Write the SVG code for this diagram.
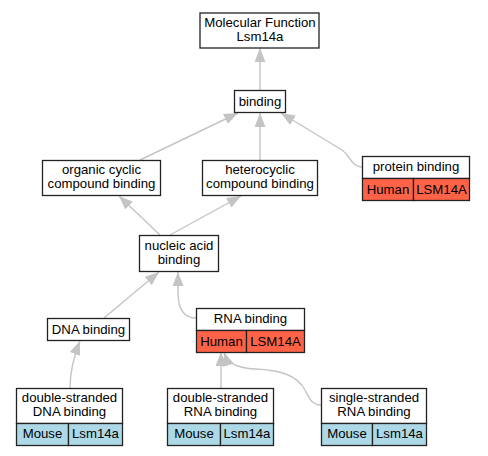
<svg xmlns="http://www.w3.org/2000/svg" width="488" height="456" viewBox="0 0 488 456">
<defs>
<style>
.box{fill:#fff;stroke:#222;stroke-width:1.3}
.hum{fill:#ff6347;stroke:#222;stroke-width:1.3}
.mou{fill:#add8e6;stroke:#222;stroke-width:1.3}
text{font-family:"Liberation Sans",Arial,sans-serif;font-size:13.2px;fill:#000;text-anchor:middle}
.edge{fill:none;stroke:#c4c4c4;stroke-width:1.4}
</style>
<marker id="ah" viewBox="0 0 14 11" markerWidth="14" markerHeight="11" markerUnits="userSpaceOnUse" refX="14" refY="5.5" orient="auto">
<path d="M0,0 L14,5.5 L0,11 z" fill="#c4c4c4"/>
</marker>
</defs>
<rect width="488" height="456" fill="#fff"/>
<g id="connectors">
<path class="edge" marker-end="url(#ah)" d="M260,90 L260,48"/>
<path class="edge" marker-end="url(#ah)" d="M140,160 L238,113"/>
<path class="edge" marker-end="url(#ah)" d="M260,160 L260,113"/>
<path class="edge" marker-end="url(#ah)" d="M362,167 C352,167 350,156 342,150 L281,113"/>
<path class="edge" marker-end="url(#ah)" d="M160,235 L119,196"/>
<path class="edge" marker-end="url(#ah)" d="M170,235 L241,196"/>
<path class="edge" marker-end="url(#ah)" d="M104,318 L159,272"/>
<path class="edge" marker-end="url(#ah)" d="M196,318 C182,318 178,306 178,292 L178,272"/>
<path class="edge" marker-end="url(#ah)" d="M70,388 C70,372 74,356 80,341"/>
<path class="edge" marker-end="url(#ah)" d="M221,388 L221,352"/>
<path class="edge" marker-end="url(#ah)" d="M321,405 C311,405 309,397 305,390 C297,375 280,370 255,369 C238,368 228,364 224,352"/>
</g>
<g id="mf">
<rect class="box" x="200" y="13" width="119" height="35"/>
<text x="260" y="27">Molecular Function</text>
<text x="260" y="41">Lsm14a</text>
</g>
<g id="binding">
<rect class="box" x="234.5" y="90.5" width="51" height="22"/>
<text x="260" y="106">binding</text>
</g>
<g id="organic">
<rect class="box" x="42.5" y="160.5" width="118" height="35"/>
<text x="101.5" y="174">organic cyclic</text>
<text x="101.5" y="188">compound binding</text>
</g>
<g id="hetero">
<rect class="box" x="202.5" y="160.5" width="115" height="35"/>
<text x="260" y="174">heterocyclic</text>
<text x="260" y="188">compound binding</text>
</g>
<g id="protein">
<rect class="box" x="362.5" y="156.5" width="107" height="22"/>
<rect class="hum" x="362.5" y="178.5" width="51" height="22"/>
<rect class="hum" x="413.5" y="178.5" width="56" height="22"/>
<text x="416" y="171">protein binding</text>
<text x="388" y="194">Human</text>
<text x="441.5" y="194">LSM14A</text>
</g>
<g id="nucleic">
<rect class="box" x="139.5" y="235.5" width="79" height="36"/>
<text x="179" y="250">nucleic acid</text>
<text x="179" y="264">binding</text>
</g>
<g id="dna">
<rect class="box" x="47.5" y="318.5" width="82" height="22"/>
<text x="88.5" y="334">DNA binding</text>
</g>
<g id="rna">
<rect class="box" x="196.5" y="308.5" width="108" height="22"/>
<rect class="hum" x="196.5" y="330.5" width="50" height="22"/>
<rect class="hum" x="246.5" y="330.5" width="58" height="22"/>
<text x="250.5" y="323">RNA binding</text>
<text x="221.5" y="346">Human</text>
<text x="275.5" y="346">LSM14A</text>
</g>
<g id="dsdna">
<rect class="box" x="16.5" y="388.5" width="106" height="35"/>
<rect class="mou" x="16.5" y="423.5" width="52" height="22"/>
<rect class="mou" x="68.5" y="423.5" width="54" height="22"/>
<text x="69.5" y="402">double-stranded</text>
<text x="69.5" y="416">DNA binding</text>
<text x="42.5" y="438">Mouse</text>
<text x="95.5" y="438">Lsm14a</text>
</g>
<g id="dsrna">
<rect class="box" x="167.5" y="388.5" width="106" height="35"/>
<rect class="mou" x="167.5" y="423.5" width="53" height="22"/>
<rect class="mou" x="220.5" y="423.5" width="53" height="22"/>
<text x="220.5" y="402">double-stranded</text>
<text x="220.5" y="416">RNA binding</text>
<text x="194" y="438">Mouse</text>
<text x="247" y="438">Lsm14a</text>
</g>
<g id="ssrna">
<rect class="box" x="321.5" y="388.5" width="105" height="35"/>
<rect class="mou" x="321.5" y="423.5" width="51" height="22"/>
<rect class="mou" x="372.5" y="423.5" width="54" height="22"/>
<text x="374" y="402">single-stranded</text>
<text x="374" y="416">RNA binding</text>
<text x="347" y="438">Mouse</text>
<text x="399.5" y="438">Lsm14a</text>
</g>
</svg>
